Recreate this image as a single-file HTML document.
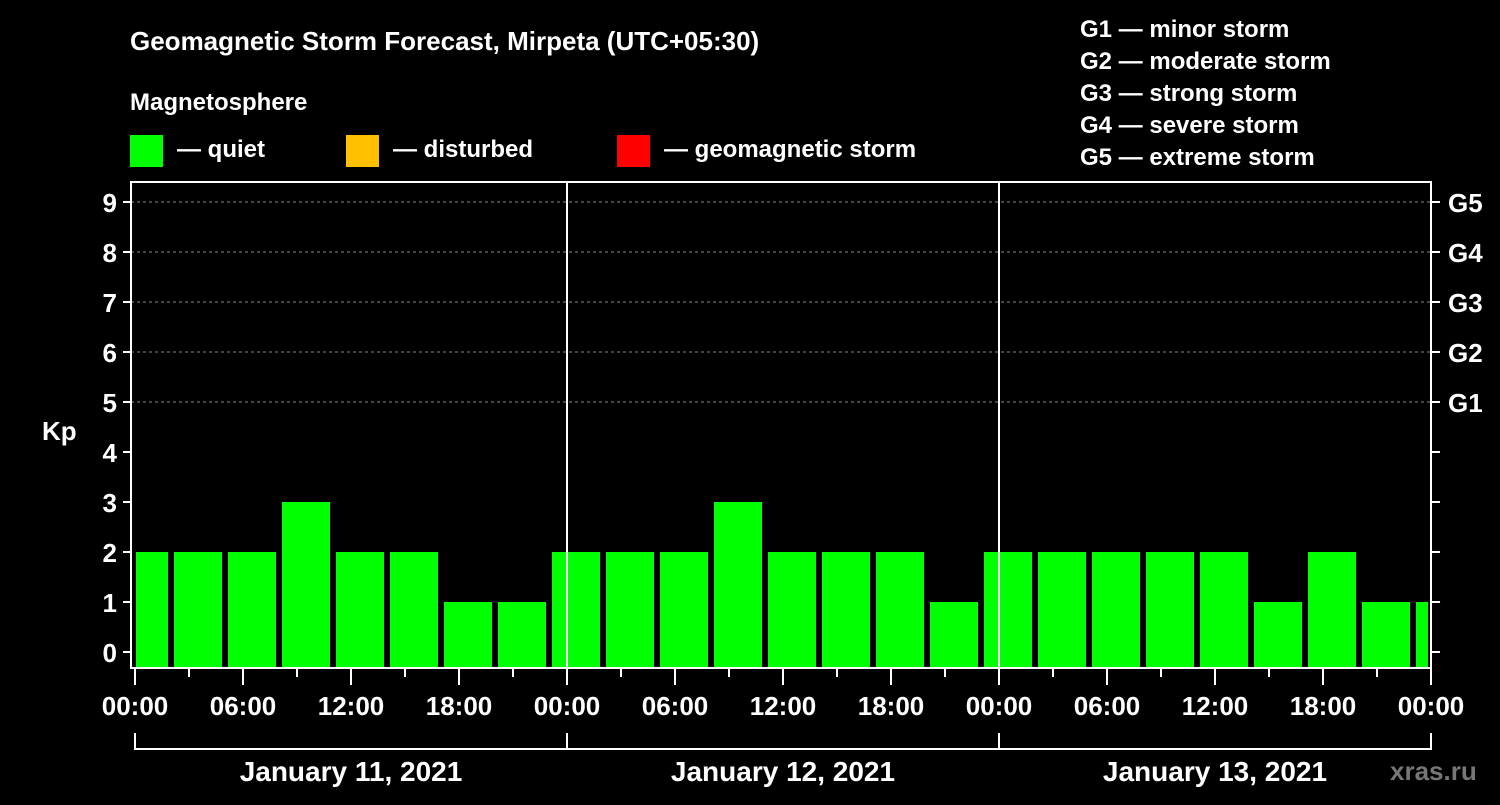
<!DOCTYPE html>
<html><head><meta charset="utf-8"><style>
body{margin:0;background:#000;}
svg text{font-family:"Liberation Sans",Arial,sans-serif;font-weight:bold;fill:#fff;}
</style></head><body>
<svg id="chart" width="1500" height="800" viewBox="0 0 1500 800" xmlns="http://www.w3.org/2000/svg">
<rect width="1500" height="800" fill="#000"/>
<text x="130" y="50" font-size="26">Geomagnetic Storm Forecast, Mirpeta (UTC+05:30)</text>
<text x="130" y="110" font-size="24">Magnetosphere</text>
<rect x="130" y="135" width="33" height="32" fill="#00ff00"/>
<text x="177" y="157" font-size="24">— quiet</text>
<rect x="346" y="135" width="33" height="32" fill="#ffc000"/>
<text x="393" y="157" font-size="24">— disturbed</text>
<rect x="617" y="135" width="33" height="32" fill="#ff0000"/>
<text x="664" y="157" font-size="24">— geomagnetic storm</text>
<g font-size="24">
<text x="1080" y="37">G1 — minor storm</text>
<text x="1080" y="69">G2 — moderate storm</text>
<text x="1080" y="101">G3 — strong storm</text>
<text x="1080" y="133">G4 — severe storm</text>
<text x="1080" y="165">G5 — extreme storm</text>
</g>
<text x="42" y="440" font-size="26">Kp</text>
<text x="1390" y="780" font-size="26" fill="#777" style="fill:#777">xras.ru</text>
<g id="plot"></g>
</svg>
<script>
const kpValues=[2,2,2,3,2,2,1,1,2,2,2,3,2,2,2,1,2,2,2,2,2,1,2,1,1];
const dayLabels=["January 11, 2021","January 12, 2021","January 13, 2021"];
const hourLabels=["00:00","06:00","12:00","18:00"];
const gLabels=["G1","G2","G3","G4","G5"];
const barStartHour=-5/6;
const NS="http://www.w3.org/2000/svg";
const X0=135,PXH=18,Y0=652,PXK=50,TOP=182,BOT=668,LEFT=131,RIGHT=1431;
const x=h=>X0+h*PXH, y=v=>Y0-v*PXK;
const g=document.getElementById('plot');
function mk(tag,attrs,parent){const e=document.createElementNS(NS,tag);for(const k in attrs)e.setAttribute(k,attrs[k]);(parent||g).appendChild(e);return e;}
// grid
for(let v=5;v<=9;v++){const l=mk('line',{x1:LEFT,x2:RIGHT,y1:y(v),y2:y(v),stroke:'#888','stroke-dasharray':'3,3','stroke-width':1});

}
// bars
kpValues.forEach((v,i)=>{
 const h0=barStartHour+3*i;let x1=x(h0),x2=x(h0+8/3);
 x1=Math.max(x1,136);x2=Math.min(x2,1428);
 const c=v>=5?'#ff0000':(v>=4?'#ffc000':'#00ff00');
 const r=mk('rect',{x:x1,y:y(v),width:x2-x1,height:667-y(v),fill:c});
 
 
});
// frame
const f=mk('rect',{x:LEFT,y:TOP,width:RIGHT-LEFT,height:BOT-TOP,fill:'none',stroke:'#fff','stroke-width':2});


// day separators & labels
for(let d=0;d<dayLabels.length;d++){
 if(d>0){const s=mk('line',{x1:x(24*d),x2:x(24*d),y1:TOP,y2:BOT,stroke:'#fff','stroke-width':2});
 
 }
 const t=mk('text',{x:x(24*d+12),y:781,'font-size':28,'text-anchor':'middle'});t.textContent=dayLabels[d];
 
 
}
// bracket
const br=mk('path',{d:`M${x(0)} 733V749H${x(72)}V733M${x(24)} 733V749M${x(48)} 733V749`,stroke:'#fff','stroke-width':2,fill:'none'});


// x ticks & labels
for(let h=0;h<=72;h+=3){
 const major=h%6===0;
 mk('line',{x1:x(h),x2:x(h),y1:BOT,y2:BOT+(major?17:9),stroke:'#fff','stroke-width':2});
 if(major){const t=mk('text',{x:x(h),y:715,'font-size':26,'text-anchor':'middle'});t.textContent=hourLabels[(h/6)%4];
 
 }
}
// y ticks & labels
for(let v=0;v<=9;v++){
 mk('line',{x1:LEFT-8,x2:LEFT,y1:y(v),y2:y(v),stroke:'#fff','stroke-width':2});
 mk('line',{x1:RIGHT,x2:RIGHT+9,y1:y(v),y2:y(v),stroke:'#fff','stroke-width':2});
 const t=mk('text',{x:LEFT-14,y:y(v)+10,'font-size':26,'text-anchor':'end'});t.textContent=v;
 
 
 if(v>=5){const gt=mk('text',{x:1448,y:y(v)+10,'font-size':26});gt.textContent=gLabels[v-5];
 
 }
}
</script>
</body></html>
